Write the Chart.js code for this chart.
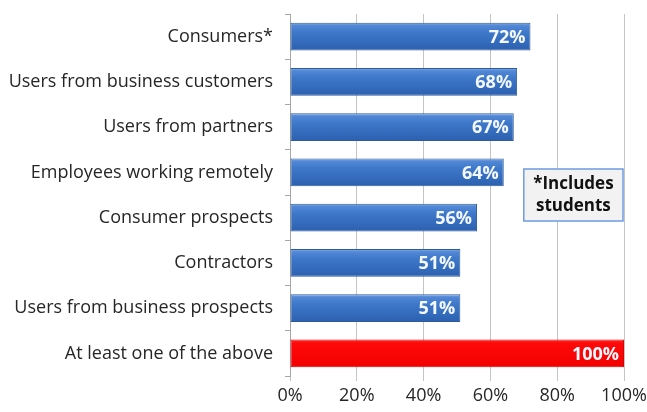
<!DOCTYPE html>
<html>
<head>
<meta charset="utf-8">
<script src="https://cdn.jsdelivr.net/npm/chart.js@4/dist/chart.umd.min.js"></script>
<style>
  html, body { margin: 0; padding: 0; background: #fff; }
  #wrap { width: 647px; height: 412px; }
</style>
</head>
<body>
<div id="wrap"><canvas id="chart" width="647" height="412"></canvas></div>
<script>
// audiences that get access, share of respondents
var categories = [
  "Consumers*",
  "Users from business customers",
  "Users from partners",
  "Employees working remotely",
  "Consumer prospects",
  "Contractors",
  "Users from business prospects",
  "At least one of the above"
];
var values = [72, 68, 67, 64, 56, 51, 51, 100];
var highlight = [false, false, false, false, false, false, false, true];
var xTicks = [0, 20, 40, 60, 80, 100];
var noteLines = ["*Includes", "students"];

var FONT = "'Open Sans', 'Liberation Sans', sans-serif";
var BAR_PCT = 0.61;

function barFill(ctx){
	var chart = ctx.chart, i = ctx.dataIndex;
	var y = chart.scales && chart.scales.y;
	if( !y || !y.height ) return highlight[i] ? "#f00" : "#3b74c2";
	var c = y.getPixelForValue(i);
	var half = (y.height / categories.length) * BAR_PCT / 2;
	var g = chart.ctx.createLinearGradient(0, c - half, 0, c + half);
	if( highlight[i] ){
		g.addColorStop(0, "#ff3030");
		g.addColorStop(0.12, "#ff0a0a");
		g.addColorStop(1, "#f20000");
	}else{
		g.addColorStop(0, "#86afe6");
		g.addColorStop(0.1, "#5288d6");
		g.addColorStop(0.35, "#3e78c9");
		g.addColorStop(1, "#2c60b0");
	}
	return g;
}

// white value labels at the end of each bar
var valueLabels = {
	id: "valueLabels",
	afterDatasetsDraw: function(chart){
		var c = chart.ctx;
		var meta = chart.getDatasetMeta(0);
		c.save();
		c.font = "bold 18px " + FONT;
		c.fillStyle = "#f4f8ff";
		c.textAlign = "right";
		c.textBaseline = "middle";
		meta.data.forEach(function(bar, i){
			c.fillText(values[i] + "%", bar.x - 5, bar.y + 1);
		});
		c.restore();
	}
};

// boxed footnote on the right side of the plot
var noteBox = {
	id: "noteBox",
	afterDatasetsDraw: function(chart){
		var c = chart.ctx, x = chart.scales.x, y = chart.scales.y;
		var left = x.getPixelForValue(70), right = x.getPixelForValue(100) - 1;
		var mid = (y.getPixelForValue(3) + y.getPixelForValue(4)) / 2;
		var top = mid - 26, h = 52;
		c.save();
		c.fillStyle = "#f2f2f2";
		c.fillRect(left, top, right - left, h);
		c.strokeStyle = "#6f9be0";
		c.lineWidth = 1.5;
		c.strokeRect(left, top, right - left, h);
		c.fillStyle = "#111";
		c.font = "bold 17px " + FONT;
		c.textAlign = "center";
		c.textBaseline = "middle";
		var cx = (left + right) / 2;
		c.fillText(noteLines[0], cx, mid - 11);
		c.fillText(noteLines[1], cx, mid + 11);
		c.restore();
	}
};

new Chart(document.getElementById("chart"), {
	type: "bar",
	data: {
		labels: categories,
		datasets: [{
			data: values,
			backgroundColor: barFill,
			borderColor: function(ctx){ return highlight[ctx.dataIndex] ? "#e00000" : "#2d5c9c"; },
			borderWidth: 1,
			borderSkipped: false,
			barPercentage: BAR_PCT,
			categoryPercentage: 1
		}]
	},
	options: {
		indexAxis: "y",
		responsive: false,
		animation: false,
		devicePixelRatio: 1,
		layout: { padding: { top: 14, right: 23, bottom: 0, left: 0 } },
		plugins: { legend: { display: false }, tooltip: { enabled: false } },
		scales: {
			x: {
				min: 0,
				max: 100,
				afterBuildTicks: function(scale){
					scale.ticks = xTicks.map(function(v){ return { value: v }; });
				},
				afterFit: function(scale){
					scale.height = 36;
					scale.paddingLeft = 0;
					scale.paddingRight = 0;
				},
				border: { display: false },
				grid: { color: "#c4c4c4", lineWidth: 1, tickLength: 5 },
				ticks: {
					padding: 4,
					color: "#262626",
					font: { family: FONT, size: 18 },
					callback: function(v){ return v + "%"; }
				}
			},
			y: {
				afterFit: function(scale){
					scale.width = 290;
					scale.paddingTop = 0;
					scale.paddingBottom = 0;
				},
				border: { display: true, color: "#a6a6a6" },
				grid: { drawOnChartArea: false, color: "#a6a6a6", tickLength: 5 },
				ticks: {
					padding: 12,
					color: "#262626",
					font: { family: FONT, size: 18 }
				}
			}
		}
	},
	plugins: [valueLabels, noteBox]
});
</script>
</body>
</html>
